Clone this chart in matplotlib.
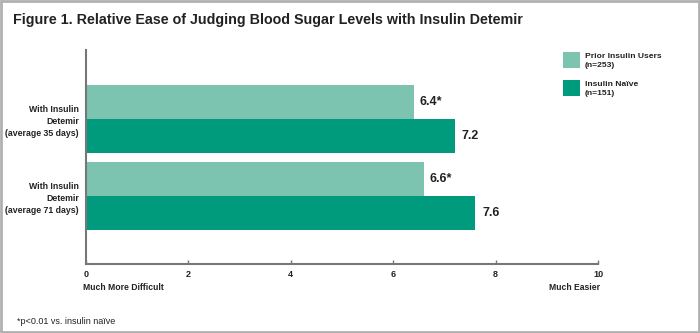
import matplotlib
matplotlib.use("Agg")
import matplotlib.pyplot as plt
from matplotlib.patches import Rectangle
from matplotlib import font_manager

names = {f.name for f in font_manager.fontManager.ttflist}
fam = 'Liberation Sans Narrow' if 'Liberation Sans Narrow' in names else 'Liberation Sans'
plt.rcParams['font.family'] = [fam, 'DejaVu Sans']

categories = ["With Insulin\nDetemir\n(average 35 days)", "With Insulin\nDetemir\n(average 71 days)"]
series_names = ["Prior Insulin Users\n(n=253)", "Insulin Naïve\n(n=151)"]
prior = [6.4, 6.6]
naive = [7.2, 7.6]
prior_labels = ["6.4*", "6.6*"]
naive_labels = ["7.2", "7.6"]
xticks = [0, 2, 4, 6, 8, 10]

c_light = "#7cc4b0"
c_dark = "#009b7c"
txt = "#222222"
W, H = 700, 333

fig = plt.figure(figsize=(7, 3.33), dpi=100)
fig.patches.append(Rectangle((0.002, 0.003), 0.996, 0.994, transform=fig.transFigure,
                             fill=False, edgecolor="#b0b0b0", linewidth=2))
ax = fig.add_axes([86 / W, 1 - 264 / H, 512 / W, 214 / H])

h = 0.4416
pos = list(range(len(categories)))
b1 = ax.barh([p - h / 2 for p in pos], prior, height=h, color=c_light, label=series_names[0])
b2 = ax.barh([p + h / 2 for p in pos], naive, height=h, color=c_dark, label=series_names[1])
for p, v, l in zip(pos, prior, prior_labels):
    ax.text(v + 0.11, p - h / 2, l, va="center", ha="left", fontsize=9, fontweight="bold", color=txt)
for p, v, l in zip(pos, naive, naive_labels):
    ax.text(v + 0.14, p + h / 2, l, va="center", ha="left", fontsize=9, fontweight="bold", color=txt)

ax.set_xlim(0, 10)
ax.set_ylim(1.883, -0.896)
ax.set_xticks(xticks)
ax.set_xticklabels([str(t) for t in xticks], fontsize=6.5, fontweight="bold", color=txt)
ax.tick_params(axis="x", direction="in", length=3, width=1, color="#777777", pad=4)
ax.set_yticks(pos)
ax.set_yticklabels(categories, fontsize=6.3, fontweight="bold", color=txt, linespacing=1.45)
ax.tick_params(axis="y", length=0, pad=5)
for s in ["top", "right"]:
    ax.spines[s].set_visible(False)
for s in ["left", "bottom"]:
    ax.spines[s].set_color("#777777")
    ax.spines[s].set_linewidth(1.5)

fig.text(83 / W, 1 - 287 / H, "Much More Difficult", ha="left", va="center",
         fontsize=6.2, fontweight="bold", color=txt)
fig.text(600 / W, 1 - 287 / H, "Much Easier", ha="right", va="center",
         fontsize=6.2, fontweight="bold", color=txt)

fig.text(13 / W, 1 - 20 / H, "Figure 1. Relative Ease of Judging Blood Sugar Levels with Insulin Detemir",
         fontsize=10.3, fontweight="bold", color=txt, va="center", ha="left")
fig.text(17 / W, 1 - 321 / H, "*p<0.01 vs. insulin naïve", fontsize=6.5, color=txt, va="center", ha="left")

# legend
leg_y = [52, 80]
for (y0, col, lab) in zip(leg_y, [c_light, c_dark], series_names):
    fig.patches.append(Rectangle((563 / W, 1 - (y0 + 16) / H), 17 / W, 16 / H,
                                 transform=fig.transFigure, facecolor=col, edgecolor="none"))
    fig.text(585 / W, 1 - (y0 + 1) / H, lab, ha="left", va="top", fontsize=6.1,
             fontweight="bold", color=txt, linespacing=1.45)

fig.savefig("out.png", dpi=100)
